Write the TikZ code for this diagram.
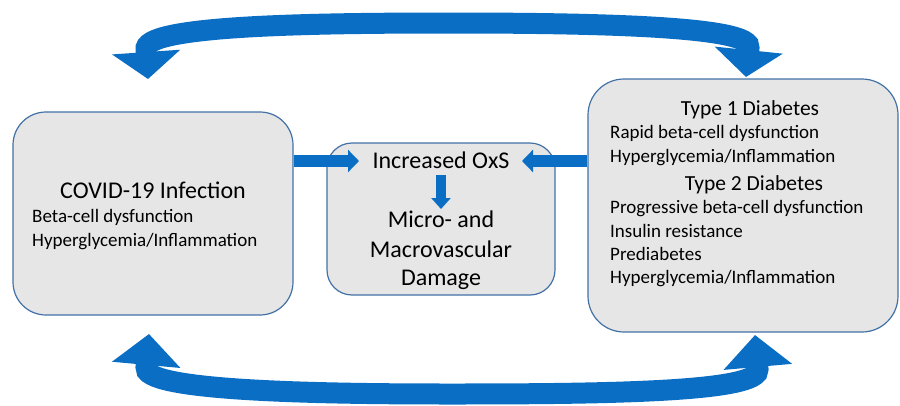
\documentclass[tikz,border=0pt]{standalone}
\usepackage{fontspec}
\setmainfont{Carlito}
\usetikzlibrary{arrows.meta}
\definecolor{arrowblue}{RGB}{10,110,196}
\definecolor{boxfill}{RGB}{231,230,230}
\definecolor{boxline}{RGB}{65,113,166}
\tikzset{
  box/.style={draw=boxline, line width=1.2pt, fill=boxfill, inner sep=0pt},
  txt/.style={inner sep=0pt, text=black},
  bigtxt/.style={txt, font=\fontsize{24}{28}\selectfont},
  headtxt/.style={txt, font=\fontsize{21.5}{25}\selectfont},
  smalltxt/.style={txt, font=\fontsize{19}{22}\selectfont},
  harrow/.style={draw=arrowblue, line width=12pt, -{Triangle[length=11pt,width=22pt]}, color=arrowblue},
  darrow/.style={draw=arrowblue, line width=10pt, -{Triangle[length=11pt,width=19pt]}, color=arrowblue},
  topband/.style={draw=arrowblue, color=arrowblue, line width=21pt,
     {Triangle[length=27pt,width=67pt]}-{Triangle[length=27pt,width=67pt]}},
  botband/.style={draw=arrowblue, color=arrowblue, line width=21pt,
     {Triangle[length=31pt,width=67pt]}-{Triangle[length=32pt,width=67pt]}},
}
\begin{document}
\begin{tikzpicture}[x=1pt,y=-1pt]
\useasboundingbox (0,0) rectangle (900,405);
% boxes
\node[box, rounded corners=33pt, minimum width=280pt, minimum height=203pt] (lbox) at (153,213.5) {};
\node[box, rounded corners=25pt, minimum width=228pt, minimum height=152pt] (mbox) at (441,219) {};
\node[box, rounded corners=36pt, minimum width=310pt, minimum height=253pt] (rbox) at (743,205.5) {};
% left box text
\node[bigtxt, anchor=base] (covid) at (153,198) {COVID-19 Infection};
\node[smalltxt, anchor=base west] (l1) at (32,222) {Beta-cell dysfunction};
\node[smalltxt, anchor=base west] (l2) at (32,246) {Hyperglycemia/Inflammation};
% middle text
\node[bigtxt, anchor=base] (inc) at (441,168) {Increased OxS};
\node[bigtxt, anchor=base] (micro) at (441,227) {Micro- and};
\node[bigtxt, anchor=base] (macro) at (441,257) {Macrovascular};
\node[bigtxt, anchor=base] (dam) at (441,285) {Damage};
% right text
\node[headtxt, anchor=base] (t1) at (750,115) {Type 1 Diabetes};
\node[smalltxt, anchor=base west] (r1) at (610,138) {Rapid beta-cell dysfunction};
\node[smalltxt, anchor=base west] (r2) at (610,162) {Hyperglycemia/Inflammation};
\node[headtxt, anchor=base] (t2) at (754,190) {Type 2 Diabetes};
\node[smalltxt, anchor=base west] (r3) at (610,213) {Progressive beta-cell dysfunction};
\node[smalltxt, anchor=base west] (r4) at (610,237) {Insulin resistance};
\node[smalltxt, anchor=base west] (r5) at (610,260) {Prediabetes};
\node[smalltxt, anchor=base west] (r6) at (610,283) {Hyperglycemia/Inflammation};
% straight arrows
\coordinate (la) at (359,161);
\coordinate (ra) at (522,161);
\draw[harrow] (lbox.east |- la) -- (la);
\draw[harrow] (rbox.west |- ra) -- (ra);
\coordinate (ds) at (441,175);
\coordinate (de) at (441,209);
\draw[darrow] (ds) -- (de);
% curved double arrows
\coordinate (tl) at (148,79);
\coordinate (tr) at (746,77);
\coordinate (bl) at (149,334);
\coordinate (br) at (755,335);
\draw[topband] (tl) -- (146,50) .. controls (141,26) and (300,23) .. (450,23)
   .. controls (610,23) and (754,27) .. (749,48) -- (tr);
\draw[botband] (bl) -- (146,367) .. controls (141,390) and (300,394) .. (450,394)
   .. controls (610,394) and (762,392) .. (758,369) -- (br);
\end{tikzpicture}
\end{document}
